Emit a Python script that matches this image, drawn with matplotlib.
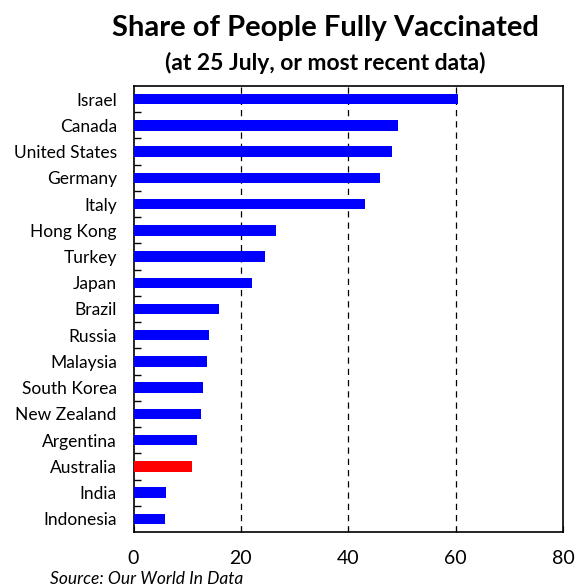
import matplotlib.pyplot as plt

plt.rcParams['font.family'] = ['Lato', 'DejaVu Sans']

countries = ['Israel', 'Canada', 'United States', 'Germany', 'Italy', 'Hong Kong',
             'Turkey', 'Japan', 'Brazil', 'Russia', 'Malaysia', 'South Korea',
             'New Zealand', 'Argentina', 'Australia', 'India', 'Indonesia']
share = [60.4, 49.3, 48.2, 46.0, 43.1, 26.5, 24.4, 22.1, 16.0, 14.1, 13.7, 12.9,
         12.6, 11.8, 10.9, 6.0, 5.9]
highlight = 'Australia'

colors = ['#ff0000' if c == highlight else '#0000ff' for c in countries]

fig = plt.figure(figsize=(5.81, 5.87), dpi=100)
ax = fig.add_axes([0.2298, 0.0937, 0.7392, 0.7598])

y = list(range(len(countries)))
ax.barh(y, share, height=0.4, color=colors, zorder=3)

ax.set_ylim(len(countries) - 0.5, -0.5)
ax.set_xlim(0, 80)
ax.set_yticks(y)
ax.set_yticklabels(countries, fontsize=12.5)
ax.set_yticks([i + 0.5 for i in y[:-1]], minor=True)
ax.tick_params(axis='y', which='major', length=0, pad=12)
ax.tick_params(axis='y', which='minor', direction='in', length=5, width=1)
ax.set_xticks([0, 20, 40, 60, 80])
ax.tick_params(axis='x', direction='in', length=4, labelsize=14, pad=13)

for v in [20, 40, 60]:
    ax.axvline(v, color='black', linestyle=(0, (5, 4)), linewidth=0.9, zorder=1)

for s in ax.spines.values():
    s.set_linewidth(1.2)

fig.text(0.56, 0.952, 'Share of People Fully Vaccinated', ha='center', va='center',
         fontsize=21, fontweight='bold')
fig.text(0.56, 0.893, '(at 25 July, or most recent data)', ha='center', va='center',
         fontsize=16.5, fontweight='bold')
fig.text(0.086, 0.013, 'Source: Our World In Data', ha='left', va='center',
         fontsize=12.5, style='italic')

fig.savefig('out.png', dpi=100)
